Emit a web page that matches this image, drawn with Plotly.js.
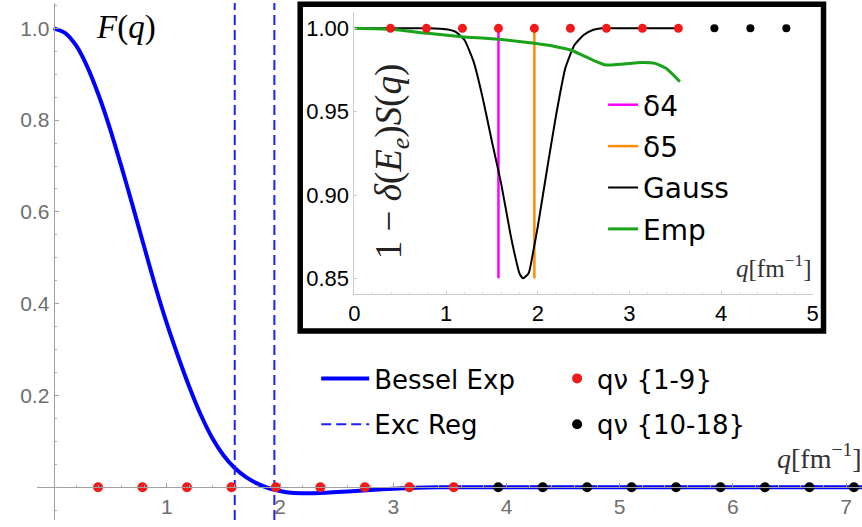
<!DOCTYPE html>
<html>
<head>
<meta charset="utf-8">
<script src="https://cdn.plot.ly/plotly-3.0.1.min.js"></script>
<style>html,body{margin:0;padding:0;background:#fff;}#chart{width:862px;height:527px;}</style>
</head>
<body>
<div id="chart"></div>
<script>
// ---------- data ----------
const qMain = [0,0.1,0.2,0.3,0.4,0.5,0.6,0.7,0.8,0.9,1.0,1.1,1.2,1.3,1.4,1.5,1.6,1.7,1.8,1.9,2.0,2.1,2.2,2.3,2.4,2.6,2.8,3.0,3.2,3.4,3.6,4.0,5.0,6.0,7.2];
const besselExp = [1.000,0.990,0.962,0.915,0.853,0.780,0.698,0.612,0.524,0.437,0.357,0.285,0.218,0.158,0.108,0.070,0.042,0.022,0.008,-0.002,-0.008,-0.012,-0.013,-0.013,-0.012,-0.009,-0.006,-0.003,-0.001,0,0,0,0,0,0];
const excReg = [1.60, 1.95];
const qNuLow = [0.393,0.785,1.178,1.571,1.963,2.356,2.749,3.142,3.534];
const qNuHigh = [3.927,4.320,4.712,5.105,5.498,5.890,6.283,6.676,7.069];
const fLow = [0,0,0,0,0,0,0,0,0];
const fHigh = [0,0,0,0,0,0,0,0,0];

// inset
const delta4 = 1.571, delta5 = 1.963;
const deltaY = [0.85, 1.00];
const qGauss = [0,0.4,0.8,1.0,1.1,1.2,1.3,1.4,1.5,1.6,1.7,1.75,1.8,1.84,1.9,1.95,2.0,2.1,2.2,2.3,2.4,2.5,2.6,2.7,3.0,3.534];
const gauss  = [1.000,1.000,1.000,0.9995,0.998,0.993,0.980,0.958,0.932,0.907,0.877,0.864,0.853,0.850,0.853,0.866,0.881,0.915,0.948,0.976,0.990,0.996,0.999,1.000,1.000,1.000];
const qEmp = [0,0.394,0.8,1.17,1.568,1.963,2.2,2.357,2.484,2.6,2.747,2.9,3.137,3.28,3.4,3.55];
const emp  = [1.000,0.9994,0.997,0.995,0.9934,0.991,0.989,0.987,0.984,0.981,0.978,0.9785,0.9795,0.979,0.976,0.968];
const insetLowY  = [1,1,1,1,1,1,1,1,1];
const insetHighQ = [3.927,4.320,4.712];
const insetHighY = [1,1,1];

const xTicksMain = [1,2,3,4,5,6,7];
const yTicksMain = [0.2,0.4,0.6,0.8,1.0];
const yTickTextMain = ['0.2','0.4','0.6','0.8','1.0'];
const xTicksInset = [0,1,2,3,4,5];
const yTicksInset = [0.85,0.90,0.95,1.00];
const yTickTextInset = ['0.85','0.90','0.95','1.00'];

// ---------- layout geometry ----------
const W = 862, H = 527;
const M = {l:36.7, r:0, t:3, b:7};
const PW = W - M.l - M.r, PH = H - M.t - M.b;
const px2x = p => (p - M.l) / PW;
const py2y = p => (H - M.b - p) / PH;
const yMainRange = [-0.0712, 1.0551];
const xMainRange = [-0.1465, 7.14];

const blue = '#0000ff', red = '#f01a1a';

const traces = [
  {x:qMain, y:besselExp, mode:'lines', name:'Bessel Exp', line:{color:blue, width:4, shape:'spline', smoothing:0.8},
   xaxis:'x', yaxis:'y', legend:'legend', legendgroup:'a'},
  {x:[excReg[0],excReg[0],null,excReg[1],excReg[1]], y:[yMainRange[0],yMainRange[1],null,yMainRange[0],yMainRange[1]],
   mode:'lines', name:'Exc Reg', line:{color:'#2020ff', width:2, dash:'10px,5px'},
   xaxis:'x', yaxis:'y', legend:'legend', legendgroup:'b'},
  {x:qNuLow, y:fLow, mode:'markers', name:'qν {1-9}', marker:{color:red, size:10},
   xaxis:'x', yaxis:'y', legend:'legend2', legendgroup:'c', cliponaxis:false},
  {x:qNuHigh, y:fHigh, mode:'markers', name:'qν {10-18}', marker:{color:'#000', size:10},
   xaxis:'x', yaxis:'y', legend:'legend2', legendgroup:'d', cliponaxis:false},
  // inset
  {x:[delta4,delta4], y:deltaY, mode:'lines', name:'δ4', line:{color:'#ff00ff', width:2.5},
   xaxis:'x2', yaxis:'y2', legend:'legend3', legendgroup:'e'},
  {x:[delta5,delta5], y:deltaY, mode:'lines', name:'δ5', line:{color:'#ff8c00', width:2.5},
   xaxis:'x2', yaxis:'y2', legend:'legend3', legendgroup:'f'},
  {x:qGauss, y:gauss, mode:'lines', name:'Gauss', line:{color:'#000', width:2, shape:'spline', smoothing:0.5},
   xaxis:'x2', yaxis:'y2', legend:'legend3', legendgroup:'g'},
  {x:qEmp, y:emp, mode:'lines', name:'Emp', line:{color:'#1aa31a', width:3, shape:'spline', smoothing:0.5},
   xaxis:'x2', yaxis:'y2', legend:'legend3', legendgroup:'h'},
  {x:qNuLow, y:insetLowY, mode:'markers', showlegend:false, marker:{color:red, size:9},
   xaxis:'x2', yaxis:'y2', cliponaxis:false},
  {x:insetHighQ, y:insetHighY, mode:'markers', showlegend:false, marker:{color:'#000', size:8},
   xaxis:'x2', yaxis:'y2', cliponaxis:false}
];

const tickGray = '#6e6e6e';
const layout = {
  width:W, height:H, margin:M,
  paper_bgcolor:'#fff', plot_bgcolor:'rgba(0,0,0,0)',
  showlegend:true,
  xaxis:{range:xMainRange, anchor:'free', position:py2y(487.3), showgrid:false, zeroline:false,
         showline:true, linecolor:'#a0a0a0', linewidth:1,
         tickvals:xTicksMain, ticks:'inside', ticklen:4, tickcolor:'#a0a0a0',
         minor:{tickvals:[0.2,0.4,0.6,0.8,1.2,1.4,1.6,1.8,2.2,2.4,2.6,2.8,3.2,3.4,3.6,3.8,4.2,4.4,4.6,4.8,5.2,5.4,5.6,5.8,6.2,6.4,6.6,6.8], ticks:'inside', ticklen:2, tickcolor:'#b0b0b0'},
         tickfont:{family:'Liberation Sans, Arial, sans-serif', size:21, color:tickGray}},
  yaxis:{range:yMainRange, anchor:'free', position:px2x(53.3), showgrid:false, zeroline:false,
         showline:true, linecolor:'#a0a0a0', linewidth:1,
         tickvals:yTicksMain, ticktext:yTickTextMain, ticks:'inside', ticklen:4, tickcolor:'#a0a0a0',
         minor:{dtick:0.05, ticks:'inside', ticklen:2, tickcolor:'#b0b0b0'},
         tickfont:{family:'Liberation Sans, Arial, sans-serif', size:21, color:tickGray}},
  xaxis2:{domain:[px2x(354.3), px2x(812.7)], range:[0,5], anchor:'y2', showgrid:false, zeroline:false,
          showline:true, linecolor:'#cccccc', linewidth:1,
          tickvals:xTicksInset, ticks:'inside', ticklen:3, tickcolor:'#cccccc',
          minor:{dtick:0.2, ticks:'inside', ticklen:2, tickcolor:'#dddddd'},
          tickfont:{family:'Liberation Sans, Arial, sans-serif', size:22, color:'#000'}},
  yaxis2:{domain:[py2y(294), py2y(11.7)], range:[0.8406,1.010], anchor:'x2', showgrid:false, zeroline:false,
          showline:true, linecolor:'#cccccc', linewidth:1,
          tickvals:yTicksInset, ticktext:yTickTextInset, ticks:'inside', ticklen:3, tickcolor:'#cccccc',
          tickfont:{family:'Liberation Sans, Arial, sans-serif', size:22, color:'#000'}},
  legend:{x:px2x(316), y:py2y(355), xanchor:'left', yanchor:'top', bgcolor:'rgba(0,0,0,0)', itemwidth:48,
          font:{family:'DejaVu Sans, sans-serif', size:26, color:'#000'}, tracegroupgap:9, traceorder:'grouped'},
  legend2:{x:px2x(557), y:py2y(355), xanchor:'left', yanchor:'top', bgcolor:'rgba(0,0,0,0)',
          font:{family:'DejaVu Sans, sans-serif', size:26, color:'#000'}, tracegroupgap:9, traceorder:'grouped'},
  legend3:{x:px2x(603), y:py2y(80), xanchor:'left', yanchor:'top', bgcolor:'rgba(0,0,0,0)',
          font:{family:'DejaVu Sans, sans-serif', size:28, color:'#000'}, tracegroupgap:2, traceorder:'grouped'},
  shapes:[
    {type:'rect', xref:'paper', yref:'paper', x0:px2x(300), x1:px2x(823.5), y0:py2y(331), y1:py2y(4.2),
     line:{color:'#000', width:5.5}, layer:'above'}
  ],
  annotations:[
    {xref:'paper', yref:'paper', x:px2x(126), y:py2y(27), xanchor:'center', yanchor:'middle', showarrow:false,
     text:'<i>F</i>(<i>q</i>)', font:{family:'Liberation Serif, Times New Roman, serif', size:33, color:'#000'}},
    {xref:'paper', yref:'paper', x:px2x(864), y:py2y(456), xanchor:'right', yanchor:'middle', showarrow:false,
     text:'<i>q</i>[fm<sup>−1</sup>]', font:{family:'Liberation Serif, Times New Roman, serif', size:28, color:'#333'}},
    {xref:'paper', yref:'paper', x:px2x(814), y:py2y(266), xanchor:'right', yanchor:'middle', showarrow:false,
     text:'<i>q</i>[fm<sup>−1</sup>]', font:{family:'Liberation Serif, Times New Roman, serif', size:25, color:'#333'}},
    {xref:'paper', yref:'paper', x:px2x(391), y:py2y(161), xanchor:'center', yanchor:'middle', showarrow:false, textangle:-90,
     text:'1 − <i>δ</i>(<i>E</i><sub><i>e</i></sub>)<i>S</i>(<i>q</i>)', font:{family:'Liberation Serif, Times New Roman, serif', size:37, color:'#222'}}
  ]
};

Plotly.newPlot('chart', traces, layout, {staticPlot:true, displayModeBar:false});
</script>
</body>
</html>
